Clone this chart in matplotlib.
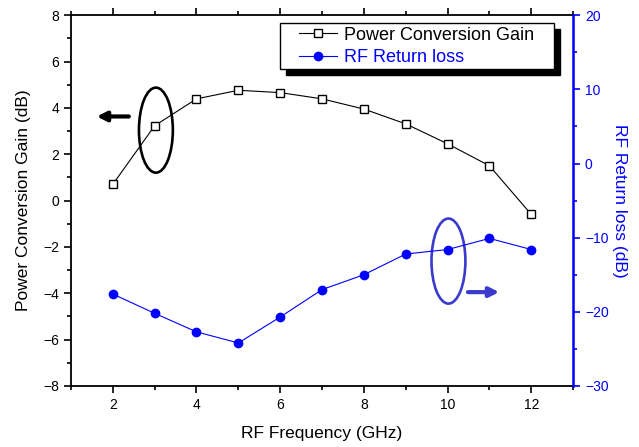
import matplotlib
matplotlib.use("Agg")
import matplotlib.pyplot as plt
from matplotlib.patches import Ellipse, Rectangle
from matplotlib.ticker import MultipleLocator

plt.rcParams['font.family'] = ['Liberation Sans', 'DejaVu Sans']

# data
freq = [2, 3, 4, 5, 6, 7, 8, 9, 10, 11, 12]
gain = [0.70, 3.23, 4.39, 4.76, 4.66, 4.39, 3.95, 3.31, 2.45, 1.50, -0.60]
return_loss = [-17.6, -20.2, -22.7, -24.2, -20.7, -17.0, -15.0, -12.2, -11.6, -10.1, -11.6]

blue = '#0000ff'
ell_blue = '#3a3acc'

fig = plt.figure(figsize=(6.39, 4.47), dpi=100)
ax = fig.add_axes([0.111, 0.1365, 0.786, 0.8295])
ax2 = ax.twinx()

l1, = ax.plot(freq, gain, color='k', lw=0.8, marker='s', markersize=5.5,
              markerfacecolor='white', markeredgecolor='k', markeredgewidth=1.0,
              label='Power Conversion Gain')
l2, = ax2.plot(freq, return_loss, color=blue, lw=0.8, marker='o', markersize=6,
               markerfacecolor=blue, markeredgecolor=blue,
               label='RF Return loss')

ax.set_xlim(1, 13)
ax.set_ylim(-8, 8)
ax2.set_ylim(-30, 20)

ax.xaxis.set_major_locator(MultipleLocator(2))
ax.xaxis.set_minor_locator(MultipleLocator(1))
ax.yaxis.set_major_locator(MultipleLocator(2))
ax.yaxis.set_minor_locator(MultipleLocator(1))
ax2.yaxis.set_major_locator(MultipleLocator(10))
ax2.yaxis.set_minor_locator(MultipleLocator(5))

ax.tick_params(axis='both', which='major', direction='out', length=5, width=1.2, labelsize=10)
ax.tick_params(axis='both', which='minor', direction='out', length=3, width=1.2)
ax.tick_params(axis='x', which='both', top=True)
ax2.tick_params(axis='y', which='major', direction='out', length=5, width=1.2,
                colors=blue, labelsize=10)
ax2.tick_params(axis='y', which='minor', direction='out', length=3, width=1.2, colors=blue)

for s in ['left', 'bottom', 'top']:
    ax.spines[s].set_linewidth(1.3)
ax2.spines['right'].set_color(blue)
ax2.spines['right'].set_linewidth(1.8)
for s in ['left', 'bottom', 'top']:
    ax2.spines[s].set_visible(False)

ax.set_xlabel('RF Frequency (GHz)', fontsize=12.5, labelpad=10)
ax.set_ylabel('Power Conversion Gain (dB)', fontsize=12.5, labelpad=9)
ax2.set_ylabel('RF Return loss (dB)', fontsize=12.5, color=blue, rotation=270, labelpad=13)

# annotation ellipses and arrows (left-axis coordinates)
ax.add_patch(Ellipse((3.03, 3.04), 0.81, 3.67, fill=False, ec='k', lw=1.9, zorder=5))
ax.annotate('', xy=(1.55, 3.63), xytext=(2.45, 3.63),
            arrowprops=dict(arrowstyle='-|>', color='k', lw=3, mutation_scale=14))
ax.add_patch(Ellipse((10.02, -2.61), 0.81, 3.67, fill=False, ec=ell_blue, lw=1.9, zorder=5))
ax.annotate('', xy=(11.3, -3.95), xytext=(10.42, -3.95),
            arrowprops=dict(arrowstyle='-|>', color=ell_blue, lw=3, mutation_scale=14))

# legend box with black drop shadow
ax2.add_patch(Rectangle((0.428, 0.838), 0.546, 0.124, transform=ax2.transAxes,
                        fc='k', ec='k', zorder=9, clip_on=False))
ax2.add_patch(Rectangle((0.416, 0.854), 0.546, 0.124, transform=ax2.transAxes,
                        fc='white', ec='k', lw=1.0, zorder=10, clip_on=False))
leg = ax2.legend([l1, l2], ['Power Conversion Gain', 'RF Return loss'],
                 loc='center left', bbox_to_anchor=(0.454, 0.916), borderaxespad=0,
                 borderpad=0, fontsize=13, frameon=False,
                 handlelength=2.1, handletextpad=0.4, labelspacing=0.3)
leg.set_zorder(11)
leg.get_texts()[1].set_color(blue)

fig.savefig('out.png', dpi=100)
